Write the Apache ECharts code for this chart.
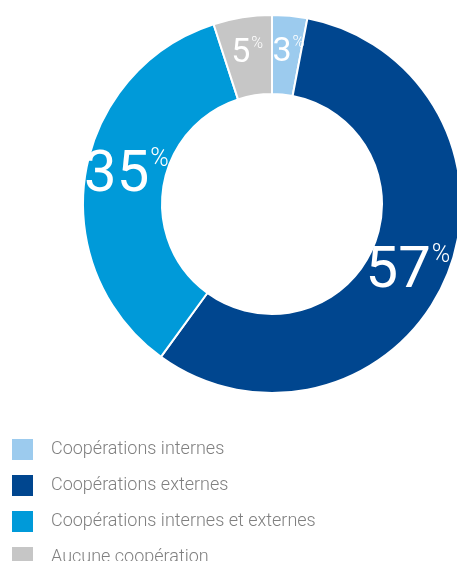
<!DOCTYPE html>
<html>
<head>
<meta charset="utf-8">
<script src="https://cdn.jsdelivr.net/npm/echarts@6/dist/echarts.min.js"></script>
<style>
  html, body { margin: 0; padding: 0; background: #fff; }
  #chart { width: 457px; height: 561px; }
</style>
</head>
<body>
<div id="chart"></div>
<script>
// Répartition des projets selon le type de coopération (%)
const categories = [
  'Coopérations internes',
  'Coopérations externes',
  'Coopérations internes et externes',
  'Aucune coopération'
];
const values = [3, 57, 35, 5];
const colors = ['#9ccbee', '#00468f', '#009ad9', '#c6c6c6'];
// nudges for the value labels inside the ring
const labelOffsets = [[2, 0], [-4, 8], [5, -4], [-1, 0]];

const FONT = 'Roboto, "Liberation Sans", sans-serif';

function labelFor(v, offset) {
  const big = v >= 20;
  const n = big ? 58 : 34;
  const p = big ? 25 : 16;
  return {
    show: true,
    position: 'inside',
    offset,
    formatter: '{n|{c}}{p|%}',
    rich: {
      n: { fontFamily: FONT, fontWeight: 400, fontSize: n, color: '#fff', lineHeight: n, verticalAlign: 'bottom' },
      p: { fontFamily: FONT, fontWeight: 300, fontSize: p, color: '#fff', verticalAlign: 'top', lineHeight: n, padding: [0, 0, 0, 1] }
    }
  };
}

const data = categories.map((name, i) => ({
  name,
  value: values[i],
  itemStyle: { color: colors[i] },
  label: labelFor(values[i], labelOffsets[i])
}));

const chart = echarts.init(document.getElementById('chart'), null, { renderer: 'canvas' });
chart.setOption({
  animation: false,
  legend: {
    orient: 'vertical',
    left: 10,
    top: 437,
    height: 200,
    padding: 0,
    itemWidth: 23,
    itemHeight: 23,
    itemGap: 11,
    icon: 'rect',
    textStyle: { fontFamily: FONT, fontWeight: 300, fontSize: 18, color: '#808080', padding: [0, 0, 0, 12] },
    data: categories
  },
  series: [{
    type: 'pie',
    center: [272, 204],
    radius: [110, 189],
    startAngle: 90,
    clockwise: true,
    avoidLabelOverlap: false,
    itemStyle: { borderColor: '#fff', borderWidth: 2 },
    labelLine: { show: false },
    emphasis: { disabled: true },
    data
  }]
});
</script>
</body>
</html>
